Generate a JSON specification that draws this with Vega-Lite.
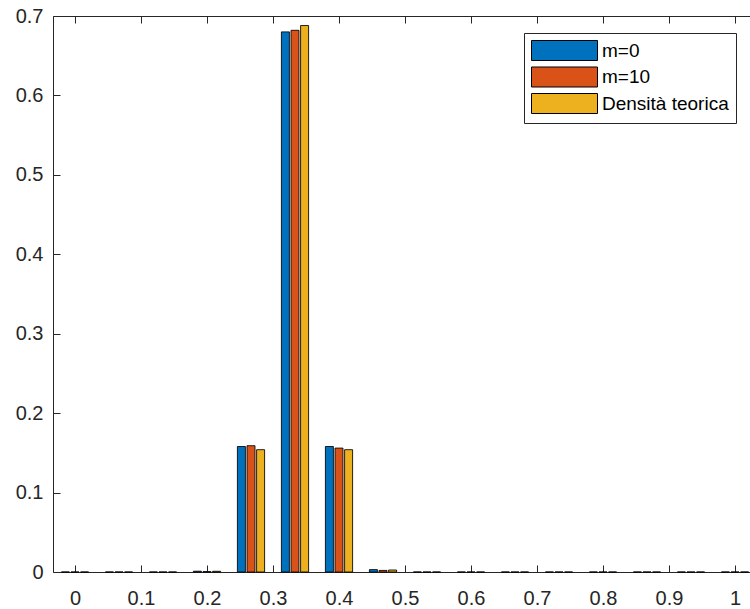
{
  "$schema": "https://vega.github.io/schema/vega-lite/v6.json",
  "width": 697,
  "height": 556,
  "autosize": {"type": "none"},
  "padding": {"left": 53, "top": 16, "right": 0, "bottom": 37},
  "background": "white",
  "config": {
    "view": {"stroke": null},
    "font": "Liberation Sans",
    "axis": {
      "domainColor": "#262626",
      "tickColor": "#262626",
      "labelColor": "#262626",
      "labelFont": "Liberation Sans",
      "labelFontSize": 20,
      "domainWidth": 1,
      "tickWidth": 1,
      "grid": false,
      "title": null,
      "zindex": 1
    }
  },
  "data": {
    "values": [
      {"x": 0, "series": "m=0", "value": 0}, {"x": 0, "series": "m=10", "value": 0}, {"x": 0, "series": "Densità teorica", "value": 0},
      {"x": 0.066667, "series": "m=0", "value": 0}, {"x": 0.066667, "series": "m=10", "value": 0}, {"x": 0.066667, "series": "Densità teorica", "value": 0},
      {"x": 0.133333, "series": "m=0", "value": 0}, {"x": 0.133333, "series": "m=10", "value": 0}, {"x": 0.133333, "series": "Densità teorica", "value": 0},
      {"x": 0.2, "series": "m=0", "value": 0.001}, {"x": 0.2, "series": "m=10", "value": 0.0005}, {"x": 0.2, "series": "Densità teorica", "value": 0.0009},
      {"x": 0.266667, "series": "m=0", "value": 0.158}, {"x": 0.266667, "series": "m=10", "value": 0.159}, {"x": 0.266667, "series": "Densità teorica", "value": 0.154},
      {"x": 0.333333, "series": "m=0", "value": 0.68}, {"x": 0.333333, "series": "m=10", "value": 0.682}, {"x": 0.333333, "series": "Densità teorica", "value": 0.688},
      {"x": 0.4, "series": "m=0", "value": 0.158}, {"x": 0.4, "series": "m=10", "value": 0.156}, {"x": 0.4, "series": "Densità teorica", "value": 0.154},
      {"x": 0.466667, "series": "m=0", "value": 0.003}, {"x": 0.466667, "series": "m=10", "value": 0.002}, {"x": 0.466667, "series": "Densità teorica", "value": 0.0025},
      {"x": 0.533333, "series": "m=0", "value": 0}, {"x": 0.533333, "series": "m=10", "value": 0}, {"x": 0.533333, "series": "Densità teorica", "value": 0},
      {"x": 0.6, "series": "m=0", "value": 0}, {"x": 0.6, "series": "m=10", "value": 0}, {"x": 0.6, "series": "Densità teorica", "value": 0},
      {"x": 0.666667, "series": "m=0", "value": 0}, {"x": 0.666667, "series": "m=10", "value": 0}, {"x": 0.666667, "series": "Densità teorica", "value": 0},
      {"x": 0.733333, "series": "m=0", "value": 0}, {"x": 0.733333, "series": "m=10", "value": 0}, {"x": 0.733333, "series": "Densità teorica", "value": 0},
      {"x": 0.8, "series": "m=0", "value": 0}, {"x": 0.8, "series": "m=10", "value": 0}, {"x": 0.8, "series": "Densità teorica", "value": 0},
      {"x": 0.866667, "series": "m=0", "value": 0}, {"x": 0.866667, "series": "m=10", "value": 0}, {"x": 0.866667, "series": "Densità teorica", "value": 0},
      {"x": 0.933333, "series": "m=0", "value": 0}, {"x": 0.933333, "series": "m=10", "value": 0}, {"x": 0.933333, "series": "Densità teorica", "value": 0},
      {"x": 1, "series": "m=0", "value": 0}, {"x": 1, "series": "m=10", "value": 0}, {"x": 1, "series": "Densità teorica", "value": 0}
    ]
  },
  "encoding": {
    "y": {"field": "value", "type": "quantitative", "scale": {"domain": [0, 0.7], "nice": false},
          "axis": {"orient": "left", "values": [0, 0.1, 0.2, 0.3, 0.4, 0.5, 0.6, 0.7], "format": ".1~f", "tickSize": -7, "labelPadding": 17}},
    "color": {"field": "series", "type": "nominal",
      "scale": {"domain": ["m=0", "m=10", "Densità teorica"], "range": ["#0072BD", "#D95319", "#EDB120"]},
      "legend": {
        "orient": "none", "legendX": 471, "legendY": 17, "title": null,
        "padding": 7, "fillColor": "white", "strokeColor": "#262626",
        "symbolType": "M-1,-1L5.6,-1L5.6,1L-1,1Z", "symbolSize": 400,
        "symbolStrokeColor": "black", "symbolStrokeWidth": 1, "symbolOpacity": 1,
        "labelOffset": 50, "labelFontSize": 19, "labelFont": "Liberation Sans", "labelColor": "black",
        "rowPadding": 1.5, "labelLimit": 0
      }}
  },
  "layer": [
    {
      "transform": [{"filter": "datum.series === 'm=0'"}],
      "mark": {"type": "bar", "width": 8, "xOffset": -9.6, "stroke": "black", "strokeWidth": 1, "strokeOpacity": 0.85},
      "encoding": {
        "x": {"field": "x", "type": "quantitative", "scale": {"domain": [-0.033333, 1.022727], "nice": false, "zero": false, "padding": 0},
              "axis": {"orient": "bottom", "values": [0, 0.1, 0.2, 0.3, 0.4, 0.5, 0.6, 0.7, 0.8, 0.9, 1], "format": ".1~f", "tickSize": -7, "labelPadding": 23}}
      }
    },
    {
      "transform": [{"filter": "datum.series === 'm=10'"}],
      "mark": {"type": "bar", "width": 8, "xOffset": 0, "stroke": "black", "strokeWidth": 1, "strokeOpacity": 0.85},
      "encoding": {
        "x": {"field": "x", "type": "quantitative",
              "axis": {"orient": "top", "values": [0, 0.1, 0.2, 0.3, 0.4, 0.5, 0.6, 0.7, 0.8, 0.9, 1], "labels": false, "tickSize": -7}}
      }
    },
    {
      "transform": [{"filter": "datum.series === 'Densità teorica'"}],
      "mark": {"type": "bar", "width": 8, "xOffset": 9.6, "stroke": "black", "strokeWidth": 1, "strokeOpacity": 0.85},
      "encoding": {
        "x": {"field": "x", "type": "quantitative", "axis": null}
      }
    }
  ]
}
